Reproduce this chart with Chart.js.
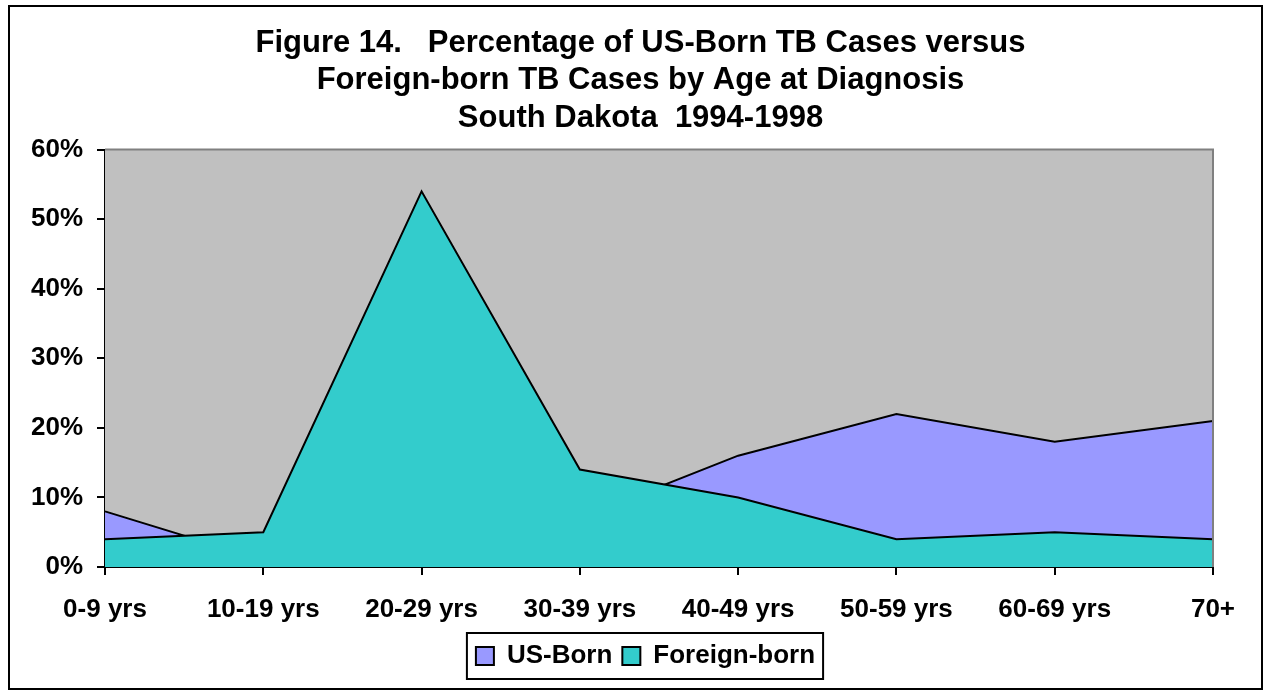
<!DOCTYPE html>
<html>
<head>
<meta charset="utf-8">
<title>Figure 14</title>
<script src="https://cdn.jsdelivr.net/npm/chart.js@4/dist/chart.umd.min.js"></script>
<style>
	html, body { margin: 0; padding: 0; background: #FFFFFF; }
	#box { position: relative; width: 1272px; height: 696px; }
</style>
</head>
<body>
<div id="box"><canvas id="chart"></canvas></div>
<script>
/*--------------------------------------------------------------------------------------------------------------------*/

const ageGroups = ['0-9 yrs', '10-19 yrs', '20-29 yrs', '30-39 yrs', '40-49 yrs', '50-59 yrs', '60-69 yrs', '70+'];

const usBorn = [8, 1, 9, 7, 16, 22, 18, 21];

const foreignBorn = [4, 5, 54, 14, 10, 4, 5, 4];

const titleLines = [
	'Figure 14.   Percentage of US-Born TB Cases versus',
	'Foreign-born TB Cases by Age at Diagnosis',
	'South Dakota  1994-1998',
];

/*--------------------------------------------------------------------------------------------------------------------*/

const FONT = 'Arial, "Liberation Sans", sans-serif';

const LEGEND_SHIFT = 34;

const TITLE_SHIFT = 29;

/*--------------------------------------------------------------------------------------------------------------------*/

const decorations = {
	id: 'decorations',

	afterUpdate: function(chart)
	{
		/* title and legend are centred on the page, not on the plot */
		const legend = chart.legend;

		legend.left += LEGEND_SHIFT;
		legend.right += LEGEND_SHIFT;

		legend.legendHitBoxes.forEach((box) => {
			box.left += LEGEND_SHIFT;
		});

		chart.titleBlock.left += TITLE_SHIFT;
		chart.titleBlock.right += TITLE_SHIFT;
	},

	beforeDatasetsDraw: function(chart)
	{
		const ctx = chart.ctx;
		const a = chart.chartArea;

		ctx.save();
		ctx.fillStyle = '#C0C0C0';
		ctx.fillRect(a.left, a.top, a.right - a.left, a.bottom - a.top);
		ctx.restore();
	},

	afterDraw: function(chart)
	{
		const ctx = chart.ctx;
		const a = chart.chartArea;

		ctx.save();

		/* plot area frame (top and right) */
		ctx.strokeStyle = '#808080';
		ctx.lineWidth = 2;
		ctx.beginPath();
		ctx.moveTo(a.left, a.top);
		ctx.lineTo(a.right, a.top);
		ctx.lineTo(a.right, a.bottom);
		ctx.stroke();

		/* legend frame */
		const boxes = chart.legend.legendHitBoxes;
		if(boxes.length > 0)
		{
			const x1 = boxes[0].left - 9;
			const x2 = boxes[boxes.length - 1].left + boxes[boxes.length - 1].width + 8;
			ctx.strokeStyle = '#000000';
			ctx.lineWidth = 2;
			ctx.strokeRect(x1, chart.legend.top, x2 - x1, chart.legend.bottom - chart.legend.top);
		}

		/* outer frame */
		ctx.strokeStyle = '#000000';
		ctx.lineWidth = 2;
		ctx.strokeRect(9, 6, 1253, 683);

		ctx.restore();
	},
};

/*--------------------------------------------------------------------------------------------------------------------*/

new Chart(document.getElementById('chart').getContext('2d'), {
	type: 'line',
	data: {
		labels: ageGroups,
		datasets: [{
			label: 'US-Born',
			data: usBorn,
			fill: 'origin',
			backgroundColor: '#9999FF',
			borderColor: '#000000',
			borderWidth: 2,
			pointRadius: 0,
			tension: 0,
			order: 2,
		}, {
			label: 'Foreign-born',
			data: foreignBorn,
			fill: 'origin',
			backgroundColor: '#33CCCC',
			borderColor: '#000000',
			borderWidth: 2,
			pointRadius: 0,
			tension: 0,
			order: 1,
		}],
	},
	options: {
		responsive: true,
		maintainAspectRatio: false,
		animation: false,
		devicePixelRatio: 1,
		layout: {
			padding: {left: 10, right: 59, top: 0, bottom: 17},
		},
		plugins: {
			title: {
				display: true,
				text: titleLines,
				color: '#000000',
				font: {family: FONT, size: 31, weight: 'bold', lineHeight: 1.2},
				padding: {top: 25, bottom: 13},
			},
			legend: {
				display: true,
				position: 'bottom',
				labels: {
					color: '#000000',
					font: {family: FONT, size: 26, weight: 'bold'},
					boxWidth: 18,
					boxHeight: 18,
					padding: 10,
					sort: (a, b) => a.datasetIndex - b.datasetIndex,
				},
			},
			tooltip: {enabled: false},
		},
		scales: {
			x: {
				offset: false,
				border: {display: true, color: '#000000', width: 2},
				grid: {display: true, drawOnChartArea: false, drawTicks: true, tickLength: 8, color: '#000000', lineWidth: 2},
				ticks: {
					color: '#000000',
					font: {family: FONT, size: 26, weight: 'bold'},
					padding: 19,
					maxRotation: 0,
					autoSkip: false,
				},
				afterFit: (scale) => { scale.height = 66; },
			},
			y: {
				min: 0,
				max: 60,
				border: {display: true, color: '#000000', width: 2},
				grid: {display: true, drawOnChartArea: false, drawTicks: true, tickLength: 8, color: '#000000', lineWidth: 2},
				ticks: {
					stepSize: 10,
					color: '#000000',
					font: {family: FONT, size: 26, weight: 'bold'},
					padding: 14,
					callback: (value) => value + '%',
				},
				afterFit: (scale) => { scale.width = 95; },
			},
		},
	},
	plugins: [decorations],
});

/*--------------------------------------------------------------------------------------------------------------------*/
</script>
</body>
</html>
